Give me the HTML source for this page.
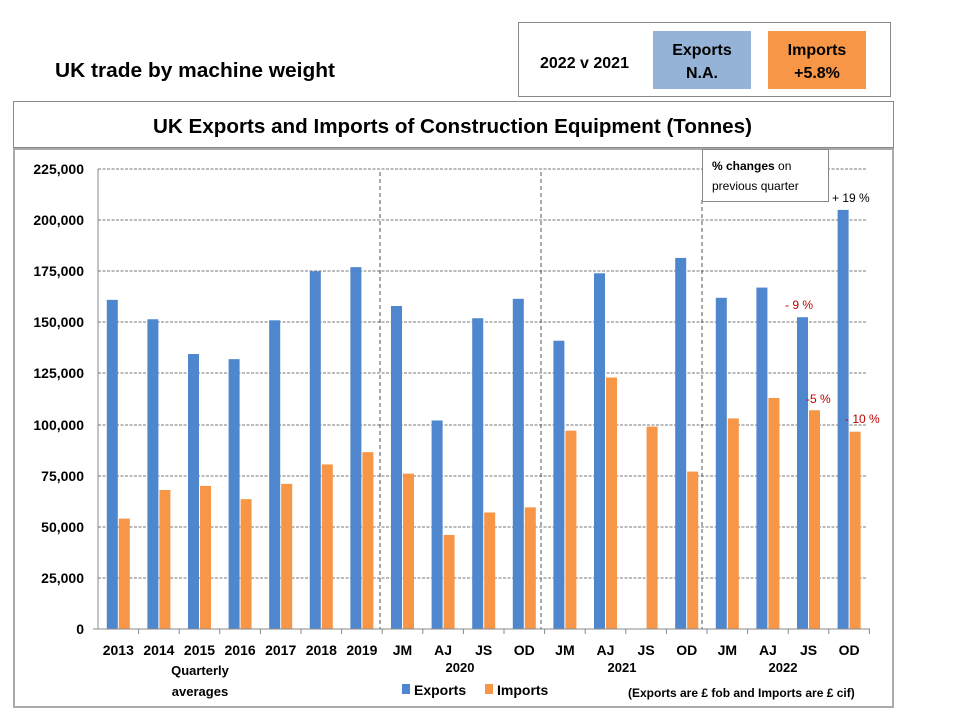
<!DOCTYPE html><html><head><style>body{margin:0;background:#fff}svg{display:block;font-family:"Liberation Sans",Arial,sans-serif;font-weight:bold}</style></head><body>
<svg width="960" height="720" xmlns="http://www.w3.org/2000/svg">
<text x="55" y="77" font-size="20" textLength="280" lengthAdjust="spacingAndGlyphs">UK trade by machine weight</text>
<rect x="518.5" y="22.5" width="372" height="74" fill="#fff" stroke="#888"/>
<text x="540" y="68" font-size="16">2022 v 2021</text>
<rect x="653" y="31" width="98" height="58" fill="#95b3d7"/>
<text x="702" y="55" font-size="16" text-anchor="middle">Exports</text><text x="702" y="78" font-size="16" text-anchor="middle">N.A.</text>
<rect x="768" y="31" width="98" height="58" fill="#f79646"/>
<text x="817" y="55" font-size="16" text-anchor="middle">Imports</text><text x="817" y="78" font-size="16" text-anchor="middle">+5.8%</text>
<rect x="13.5" y="101.5" width="880" height="46" fill="#fff" stroke="#888"/>
<text x="153" y="133" font-size="20" textLength="599" lengthAdjust="spacingAndGlyphs">UK Exports and Imports of Construction Equipment (Tonnes)</text>
<rect x="14" y="149" width="879" height="558" fill="#fff" stroke="#aaa" stroke-width="2"/>
<g stroke="#777" stroke-dasharray="3,1.5" stroke-width="1">
<line x1="98" x2="866" y1="169" y2="169"/><line x1="98" x2="866" y1="220" y2="220"/><line x1="98" x2="866" y1="271" y2="271"/><line x1="98" x2="866" y1="322" y2="322"/><line x1="98" x2="866" y1="373" y2="373"/><line x1="98" x2="866" y1="425" y2="425"/><line x1="98" x2="866" y1="476" y2="476"/><line x1="98" x2="866" y1="527" y2="527"/><line x1="98" x2="866" y1="578" y2="578"/>
</g>
<g stroke="#555" stroke-dasharray="4,3"><line x1="380" x2="380" y1="172" y2="629"/><line x1="541" x2="541" y1="172" y2="629"/><line x1="702" x2="702" y1="200" y2="629"/></g>
<g font-size="14" text-anchor="end">
<text x="84" y="174">225,000</text><text x="84" y="225">200,000</text><text x="84" y="276">175,000</text><text x="84" y="327">150,000</text><text x="84" y="378">125,000</text><text x="84" y="430">100,000</text><text x="84" y="481">75,000</text><text x="84" y="532">50,000</text><text x="84" y="583">25,000</text><text x="84" y="634">0</text></g>
<g id="bars"></g>
<line x1="98" x2="98" y1="169" y2="629" stroke="#888"/>
<line x1="93" x2="870" y1="629" y2="629" stroke="#888"/>
<g id="lab" font-size="14" text-anchor="middle"></g>
<rect x="702.5" y="149.5" width="126" height="52" fill="#fff" stroke="#888"/>
<text x="712" y="170" font-size="12">% changes <tspan font-weight="normal">on</tspan></text>
<text x="712" y="190" font-size="12" font-weight="normal">previous quarter</text>
<text x="832" y="202" font-size="12" font-weight="normal">+ 19 %</text>
<text x="785" y="309" font-size="12" fill="#c00000" font-weight="normal">- 9 %</text>
<text x="806" y="403" font-size="12" fill="#c00000" font-weight="normal">-5 %</text>
<text x="845" y="423" font-size="12" fill="#c00000" font-weight="normal">- 10 %</text>
<g font-size="13" text-anchor="middle"><text x="200" y="675">Quarterly</text><text x="200" y="696">averages</text><text x="460" y="672">2020</text><text x="622" y="672">2021</text><text x="783" y="672">2022</text></g>
<rect x="402" y="684" width="8" height="10" fill="#4f87cf"/><text x="414" y="695" font-size="14">Exports</text>
<rect x="485" y="684" width="8" height="10" fill="#f79646"/><text x="497" y="695" font-size="14">Imports</text>
<text x="628" y="697" font-size="12">(Exports are £ fob and Imports are £ cif)</text>
</svg>
<script>
var ex=[161,151.5,134.5,132,151,175,177,158,102,152,161.5,141,174,0,181.5,162,167,152.5,205];
var im=[54,68,70,63.5,71,80.5,86.5,76,46,57,59.5,97,123,99,77,103,113,107,96.5];
var lb=["2013","2014","2015","2016","2017","2018","2019","JM","AJ","JS","OD","JM","AJ","JS","OD","JM","AJ","JS","OD"];
var ns="http://www.w3.org/2000/svg",b=document.getElementById("bars"),l=document.getElementById("lab");
function r(x,v,c){var h=v*460/225,e=document.createElementNS(ns,"rect");e.setAttribute("x",x);e.setAttribute("y",629-h);e.setAttribute("width",11);e.setAttribute("height",h);e.setAttribute("fill",c);b.appendChild(e);}
for(var i=0;i<19;i++){var c=98+40.6*i+20.3;if(ex[i])r(c-11.5,ex[i],"#4f87cf");r(c+0.5,im[i],"#f79646");
var t=document.createElementNS(ns,"text");t.setAttribute("x",c);t.setAttribute("y",655);t.textContent=lb[i];l.appendChild(t);
var k=document.createElementNS(ns,"line");k.setAttribute("x1",98+40.6*(i+1));k.setAttribute("x2",98+40.6*(i+1));k.setAttribute("y1",629);k.setAttribute("y2",634);k.setAttribute("stroke","#888");b.appendChild(k);}
</script>
</body></html>
